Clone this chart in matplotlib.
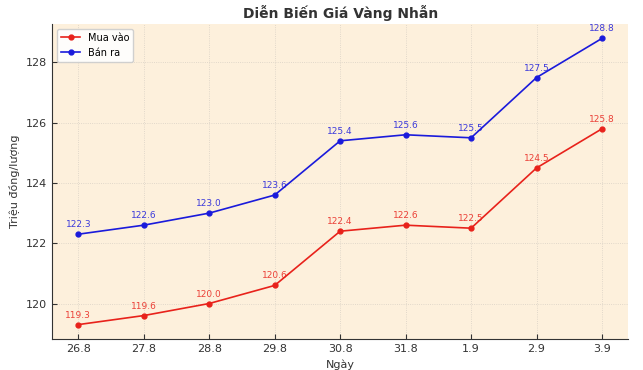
import matplotlib
matplotlib.use('Agg')
import matplotlib.pyplot as plt

# data
dates = ['26.8', '27.8', '28.8', '29.8', '30.8', '31.8', '1.9', '2.9', '3.9']
mua_vao = [119.3, 119.6, 120.0, 120.6, 122.4, 122.6, 122.5, 124.5, 125.8]
ban_ra = [122.3, 122.6, 123.0, 123.6, 125.4, 125.6, 125.5, 127.5, 128.8]

fig = plt.figure(figsize=(6.43, 3.70), dpi=100)
ax = fig.add_axes([0.081, 0.084, 0.896, 0.851])
ax.set_facecolor('#fdf0dc')

x = range(len(dates))
ax.plot(x, mua_vao, color='#e8221b', marker='o', markersize=3.5, linewidth=1.2, label='Mua vào')
ax.plot(x, ban_ra, color='#1a1adb', marker='o', markersize=3.5, linewidth=1.2, label='Bán ra')

for i, v in enumerate(mua_vao):
    ax.annotate(f'{v:.1f}', (i, v), textcoords='offset points', xytext=(0, 5),
                ha='center', fontsize=6.5, color='#e8221b', alpha=0.85)
for i, v in enumerate(ban_ra):
    ax.annotate(f'{v:.1f}', (i, v), textcoords='offset points', xytext=(0, 5),
                ha='center', fontsize=6.5, color='#1a1adb', alpha=0.85)

ax.set_xticks(list(x))
ax.set_xticklabels(dates)
ax.set_title('Diễn Biến Giá Vàng Nhẫn', fontsize=10, fontweight='bold', color='#333333', pad=4)
ax.set_xlabel('Ngày', fontsize=8, color='#333333')
ax.set_ylabel('Triệu đồng/lượng', fontsize=8, color='#333333')
ax.tick_params(direction='in', labelsize=8, colors='#333333')
ax.grid(True, color='#d8d0c4', linestyle=':', linewidth=0.6)
for s in ['top', 'right']:
    ax.spines[s].set_visible(False)
for s in ['left', 'bottom']:
    ax.spines[s].set_color('#333333')
ax.legend(loc='upper left', fontsize=7, facecolor='white', framealpha=0.9)

fig.savefig('out.png', dpi=100)
